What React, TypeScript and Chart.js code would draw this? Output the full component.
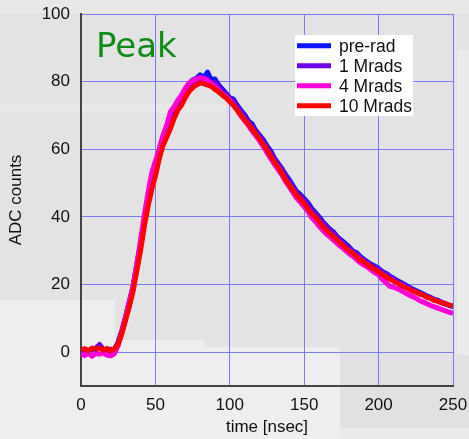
import React, { useEffect, useRef } from "react";
import { Chart, registerables } from "chart.js";

Chart.register(...registerables);

// sampling grid (ns)
const time: number[] = Array.from({ length: 101 }, (_, i) => i * 2.5);

const seriesLabels = ["pre-rad", "1 Mrads", "4 Mrads", "10 Mrads"];
const seriesColors = ["#0a14ff", "#6c00e6", "#ff00d8", "#ff0000"];

const preRad = [
  0.4, 0.8, 0.3, 0.9, 0.7, 1.6, 0.9, 0.6, 0.2, 0.8,
  3, 6.5, 10.5, 15, 19.5, 26, 32, 39, 45, 50,
  54.5, 58.5, 63, 66, 68.5, 71, 73.8, 75.5, 77.5, 79.2,
  80.5, 81, 82, 81.2, 82.8, 80.5, 80.8, 79, 77.8, 76.5,
  75.2, 74.8, 73, 71.5, 70.2, 68.4, 67.5, 65.5, 64.2, 62.8,
  61, 59.5, 57.4, 55.8, 54.3, 52.5, 51, 49.2, 47.5, 46.6,
  45.4, 44.2, 42.5, 41.3, 40, 38.6, 37.4, 36.3, 35.4, 34,
  33.1, 32.2, 31.2, 30, 29.5, 28.4, 27.5, 26.7, 26, 25.4,
  24.8, 23.9, 23.3, 22.5, 21.9, 21.2, 20.6, 20, 19.4, 18.8,
  18.2, 17.7, 17.2, 16.6, 16.2, 15.6, 15.3, 14.7, 14.3, 13.8,
  13.4,
];

const mrad1 = [
  0.6, 0.9, 0.4, 0.8, 1.2, 2.3, 0.8, 0.5, 0.9, 0.6,
  2.8, 6, 10.2, 14.5, 19.2, 25.5, 31.5, 38.5, 44.5, 49.5,
  54, 58, 62.4, 65.5, 68, 70.6, 73.2, 75, 77, 78.6,
  79.8, 80.5, 81, 80.6, 80.9, 79.6, 79.8, 78.4, 77.2, 76.2,
  75, 74.2, 72.6, 71, 69.6, 68, 66.9, 65, 63.8, 62.2,
  60.5, 58.9, 57, 55.2, 53.8, 52, 50.4, 48.6, 47, 46.1,
  44.9, 43.6, 42, 40.8, 39.5, 38.2, 37, 35.9, 35, 33.7,
  32.8, 31.8, 30.8, 29.8, 29.1, 28.1, 27.2, 26.4, 25.7, 25.2,
  24.5, 23.8, 23.1, 22.2, 21.6, 21, 20.4, 19.7, 19.2, 18.5,
  18, 17.5, 17, 16.4, 16.1, 15.4, 15.1, 14.6, 14.2, 13.9,
  13.7,
];

const mrad4 = [
  -0.5, -1.0, -0.3, -1.2, -0.4, -0.6, -0.2, -0.9, -1.1, -0.4,
  2, 6, 10.5, 15, 19.5, 26, 33, 40.5, 47, 53,
  56.5, 60, 64, 67, 71, 72.5, 74.5, 76, 78, 79.5,
  80.3, 80.8, 81.2, 81, 80.2, 79.5, 78.5, 77.5, 76.3, 75.5,
  74.5, 73, 71.6, 69.8, 68.5, 67, 65.4, 64, 62.5, 60.8,
  59, 57.2, 55.5, 54, 52.4, 50.5, 48.8, 47.2, 45.5, 44.3,
  43, 41.6, 39.8, 38.6, 37.3, 36, 34.9, 34, 33, 32,
  31.1, 30.2, 29.2, 28.4, 27.5, 26.5, 25.8, 25.2, 24.3, 23.5,
  22.9, 21.5, 20.6, 19.5, 19.2, 18.8, 18.2, 17.6, 17, 16.5,
  16, 15.3, 14.8, 14.3, 13.8, 13.4, 13, 12.6, 12.2, 11.8,
  11.5,
];

const mrad10 = [
  0.8, 1.0, 0.5, 1.2, 0.9, 1.3, 0.6, 1.1, 0.4, 1.0,
  2.5, 5.5, 9.5, 13.5, 18, 24, 30, 37, 43, 48,
  52, 57, 61, 63.5, 66, 69, 71.5, 73, 75.2, 77,
  78.2, 79, 79.6, 79.4, 79, 78.6, 77.7, 77, 76, 75.2,
  74, 73, 71.5, 70.2, 68.6, 67.5, 66, 64.6, 63, 61.5,
  59.8, 58, 56.3, 54.8, 52.9, 51, 49.4, 48, 46.4, 45.3,
  44, 42.4, 41, 40, 38.6, 37.2, 36, 35.1, 34, 33,
  32, 31, 30, 29.3, 28.4, 27.4, 26.7, 25.9, 25.2, 24.4,
  23.8, 23, 22.3, 21.6, 21, 20.5, 19.8, 19.2, 18.8, 18.1,
  17.8, 17.2, 16.9, 16.2, 15.9, 15.3, 15, 14.6, 14.4, 13.9,
  13.6,
];

const seriesValues = [preRad, mrad1, mrad4, mrad10];

const FONT = "'Liberation Sans', Arial, Helvetica, sans-serif";

const backdropPlugin = {
  id: "backdrop",
  beforeDraw(chart: any) {
    const ctx = chart.ctx;
    const W = chart.width;
    const H = chart.height;
    ctx.save();
    ctx.fillStyle = "#e3e3e3";
    ctx.fillRect(0, 0, W, H);
    ctx.fillStyle = "#e8e8e8";
    ctx.fillRect(0, 0, W, 13);
    ctx.fillStyle = "#e9e9e9";
    ctx.fillRect(0, 104, 225, 9);
    ctx.fillStyle = "#eeeeee";
    ctx.fillRect(0, 300, 115, H - 300);
    ctx.fillRect(115, 340, 90, H - 340);
    ctx.fillRect(205, 347, 135, H - 347);
    ctx.fillStyle = "#e1e1e1";
    ctx.fillRect(340, 355, W - 340, 73);
    ctx.fillStyle = "#ebebeb";
    ctx.fillRect(340, 428, W - 340, H - 428);
    ctx.fillRect(457, 50, W - 457, 305);
    ctx.restore();
  },
};

const overlayPlugin = {
  id: "overlay",
  afterDraw(chart: any) {
    const ctx = chart.ctx;
    ctx.save();
    // Peak label
    ctx.fillStyle = "#128a18";
    ctx.font = "34px 'DejaVu Sans', sans-serif";
    ctx.textBaseline = "alphabetic";
    ctx.textAlign = "left";
    ctx.fillText("Peak", 96, 57);
    // legend
    ctx.fillStyle = "#ffffff";
    ctx.fillRect(295, 35, 118, 81);
    ctx.font = `17.5px ${FONT}`;
    ctx.textBaseline = "middle";
    chart.data.datasets.forEach((ds: any, i: number) => {
      const y = 45.7 + i * 20;
      ctx.strokeStyle = ds.borderColor;
      ctx.lineWidth = 5;
      ctx.beginPath();
      ctx.moveTo(297, y);
      ctx.lineTo(331, y);
      ctx.stroke();
      ctx.fillStyle = "#111111";
      ctx.fillText(ds.label, 339, y + 1);
    });
    ctx.restore();
  },
};

export default function App() {
  const ref = useRef<HTMLCanvasElement | null>(null);
  useEffect(() => {
    document.body.style.margin = "0";
    const canvas = ref.current;
    if (!canvas) return;
    const chart = new Chart(canvas, {
      type: "line",
      data: {
        datasets: seriesLabels.map((label, i) => ({
          label,
          data: time.map((t, k) => ({ x: t, y: seriesValues[i][k] })),
          borderColor: seriesColors[i],
          backgroundColor: seriesColors[i],
          borderWidth: 5,
          pointRadius: 0,
          tension: 0,
          borderJoinStyle: "round" as const,
          order: 4 - i,
        })),
      },
      options: {
        responsive: false,
        animation: false,
        layout: { padding: { top: 14, right: 16, left: 0, bottom: 0 } },
        plugins: {
          legend: { display: false },
          tooltip: { enabled: false },
        },
        scales: {
          x: {
            type: "linear",
            min: 0,
            max: 250,
            ticks: {
              stepSize: 50,
              color: "#111",
              font: { family: FONT, size: 17 },
              padding: 9,
              maxRotation: 0,
            },
            grid: { color: "#7b7bf5", lineWidth: 1, drawTicks: false },
            border: { color: "#444", width: 2 },
            title: {
              display: true,
              text: "time [nsec]",
              color: "#111",
              font: { family: FONT, size: 17 },
              padding: { top: 0, bottom: 1 },
            },
            afterFit(scale: any) {
              scale.height = 53;
              scale.paddingLeft = 0;
              scale.paddingRight = 0;
            },
          },
          y: {
            type: "linear",
            min: -10,
            max: 100,
            ticks: {
              stepSize: 20,
              color: "#111",
              font: { family: FONT, size: 17 },
              padding: 11,
            },
            afterBuildTicks(scale: any) {
              scale.ticks = scale.ticks.filter((t: any) => t.value >= 0);
            },
            grid: { color: "#7b7bf5", lineWidth: 1, drawTicks: false },
            border: { color: "#444", width: 2 },
            title: {
              display: true,
              text: "ADC counts",
              color: "#111",
              font: { family: FONT, size: 17 },
              padding: { top: 6, bottom: 0 },
            },
            afterFit(scale: any) {
              scale.width = 81;
              scale.paddingTop = 0;
              scale.paddingBottom = 0;
            },
          },
        },
      },
      plugins: [backdropPlugin, overlayPlugin],
    });
    return () => chart.destroy();
  }, []);
  return (
    <div style={{ position: "absolute", left: 0, top: 0, width: 469, height: 439 }}>
      <canvas ref={ref} width={469} height={439} />
    </div>
  );
}
